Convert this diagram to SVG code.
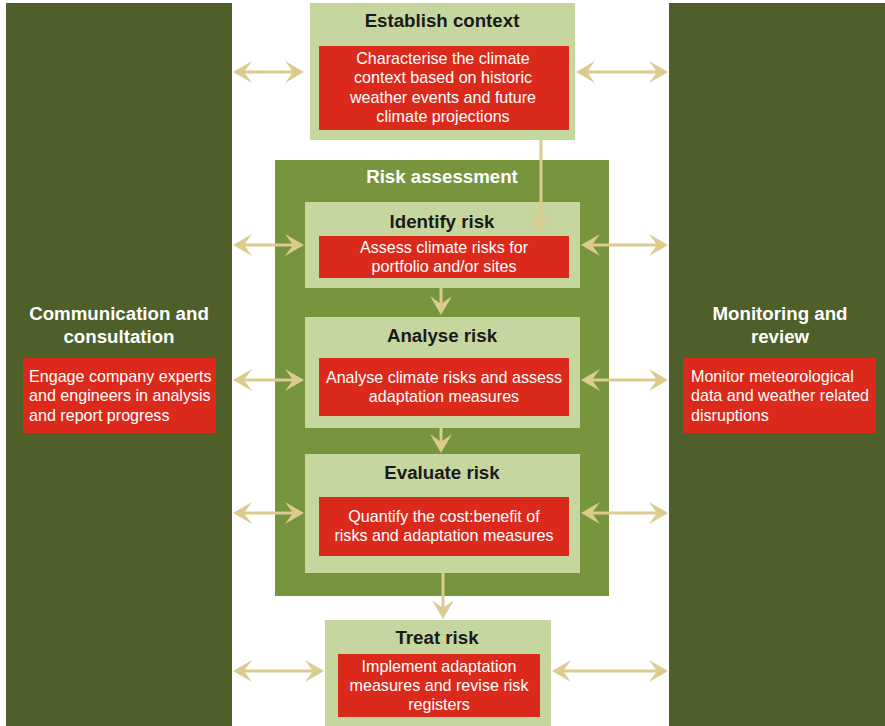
<svg xmlns="http://www.w3.org/2000/svg" width="885" height="726" viewBox="0 0 885 726">
  <style>
    .panel { fill: #4e5f29; }
    .frame { fill: #77953d; }
    .step { fill: #c5d69e; }
    .note { fill: #db2a1c; }
    .title { font-family: "Liberation Sans", Arial, sans-serif; font-weight: bold; font-size: 18.7px; fill: #1a1a1a; text-anchor: middle; }
    .title-w { font-family: "Liberation Sans", Arial, sans-serif; font-weight: bold; font-size: 18.7px; fill: #ffffff; text-anchor: middle; }
    .body { font-family: "Liberation Sans", Arial, sans-serif; font-size: 16.1px; fill: #ffffff; text-anchor: middle; }
    .body-l { font-family: "Liberation Sans", Arial, sans-serif; font-size: 16.1px; fill: #ffffff; }
    .link { stroke: #dccb8f; stroke-width: 3; fill: none; marker-end: url(#head); }
    .both { marker-start: url(#head); }
  </style>
  <defs>
    <marker id="head" markerUnits="userSpaceOnUse" viewBox="0 -12 21 24" markerWidth="21" markerHeight="24" refX="9" refY="0" orient="auto-start-reverse">
      <path d="M20,0 L1,-11 L9,0 L1,11 Z" fill="#dccb8f"/>
    </marker>
  </defs>

  <rect width="885" height="726" fill="#ffffff"/>

  <!-- side panels -->
  <g id="communication">
    <rect class="panel" x="6" y="3" width="226" height="723"/>
    <text class="title-w" x="119" y="320">Communication and</text>
    <text class="title-w" x="119" y="343">consultation</text>
    <rect class="note" x="23" y="358" width="193" height="75"/>
    <text class="body-l" x="29" y="381.5">Engage company experts</text>
    <text class="body-l" x="29" y="401">and engineers in analysis</text>
    <text class="body-l" x="29" y="420.5">and report progress</text>
  </g>

  <g id="monitoring">
    <rect class="panel" x="669" y="3" width="216" height="723"/>
    <text class="title-w" x="780" y="320">Monitoring and</text>
    <text class="title-w" x="780" y="343">review</text>
    <rect class="note" x="683" y="358" width="193" height="75"/>
    <text class="body-l" x="691" y="381.5">Monitor meteorological</text>
    <text class="body-l" x="691" y="401">data and weather related</text>
    <text class="body-l" x="691" y="420.5">disruptions</text>
  </g>

  <!-- central process -->
  <g id="establish-context">
    <rect class="step" x="310" y="3" width="265" height="137"/>
    <text class="title" x="442" y="27">Establish context</text>
    <rect class="note" x="319" y="46" width="250" height="84"/>
    <text class="body" x="443" y="63.5">Characterise the climate</text>
    <text class="body" x="443" y="83">context based on historic</text>
    <text class="body" x="443" y="102.5">weather events and future</text>
    <text class="body" x="443" y="122">climate projections</text>
  </g>

  <g id="risk-assessment">
    <rect class="frame" x="275" y="160" width="334" height="436"/>
    <text class="title-w" x="442" y="183">Risk assessment</text>
  </g>

  <g id="identify-risk">
    <rect class="step" x="305" y="202" width="275" height="86"/>
    <text class="title" x="442" y="228">Identify risk</text>
    <rect class="note" x="319" y="236" width="250" height="42"/>
    <text class="body" x="444" y="253">Assess climate risks for</text>
    <text class="body" x="444" y="272">portfolio and/or sites</text>
  </g>

  <g id="analyse-risk">
    <rect class="step" x="305" y="317" width="275" height="111"/>
    <text class="title" x="442" y="341.5">Analyse risk</text>
    <rect class="note" x="319" y="358" width="250" height="58"/>
    <text class="body" x="444" y="382.5">Analyse climate risks and assess</text>
    <text class="body" x="444" y="401.5">adaptation measures</text>
  </g>

  <g id="evaluate-risk">
    <rect class="step" x="305" y="454" width="275" height="119"/>
    <text class="title" x="442" y="478.5">Evaluate risk</text>
    <rect class="note" x="319" y="497" width="250" height="59"/>
    <text class="body" x="444" y="522">Quantify the cost:benefit of</text>
    <text class="body" x="444" y="541">risks and adaptation measures</text>
  </g>

  <g id="treat-risk">
    <rect class="step" x="325" y="620" width="226" height="106"/>
    <text class="title" x="437" y="643.5">Treat risk</text>
    <rect class="note" x="338" y="654" width="202" height="63"/>
    <text class="body" x="439" y="671.5">Implement adaptation</text>
    <text class="body" x="439" y="690.5">measures and revise risk</text>
    <text class="body" x="439" y="709.5">registers</text>
  </g>

  <!-- connectors -->
  <g id="connectors">
    <line class="link both" x1="244" y1="72" x2="293" y2="72"/>
    <line class="link both" x1="587" y1="72" x2="657" y2="72"/>
    <line class="link both" x1="244" y1="245" x2="293" y2="245"/>
    <line class="link both" x1="592" y1="245" x2="657" y2="245"/>
    <line class="link both" x1="244" y1="380" x2="293" y2="380"/>
    <line class="link both" x1="592" y1="380" x2="657" y2="380"/>
    <line class="link both" x1="244" y1="513" x2="293" y2="513"/>
    <line class="link both" x1="592" y1="513" x2="657" y2="513"/>
    <line class="link both" x1="244" y1="671" x2="313" y2="671"/>
    <line class="link both" x1="563" y1="671" x2="657" y2="671"/>
    <line class="link" x1="541" y1="140" x2="541" y2="222"/>
    <line class="link" x1="441" y1="288" x2="441" y2="304"/>
    <line class="link" x1="441" y1="428" x2="441" y2="442"/>
    <line class="link" x1="443" y1="573" x2="443" y2="608"/>
  </g>
</svg>
